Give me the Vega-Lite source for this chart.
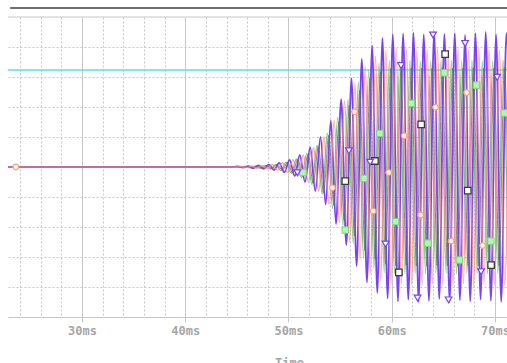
{
  "$schema": "https://vega.github.io/schema/vega-lite/v6.json",
  "width": 499,
  "height": 300,
  "autosize": {"type": "none"},
  "padding": {"left": 8, "top": 17, "right": 0, "bottom": 46},
  "background": "#ffffff",
  "config": {"view": {"stroke": null}},
  "datasets": {
    "purple": [
      {"t": 22.0, "v": 0}, {"t": 44.6, "v": 0},
      {"t": 45.1, "v": 0.02}, {"t": 45.6, "v": -0.02}, {"t": 46.1, "v": 0.03}, {"t": 46.6, "v": -0.04},
      {"t": 47.1, "v": 0.05}, {"t": 47.6, "v": -0.06}, {"t": 48.1, "v": 0.08}, {"t": 48.6, "v": -0.1},
      {"t": 49.1, "v": 0.14}, {"t": 49.6, "v": -0.18}, {"t": 50.1, "v": 0.24}, {"t": 50.6, "v": -0.3},
      {"t": 51.1, "v": 0.4}, {"t": 51.6, "v": -0.5}, {"t": 52.1, "v": 0.65}, {"t": 52.6, "v": -0.8},
      {"t": 53.1, "v": 1.0}, {"t": 53.6, "v": -1.25}, {"t": 54.1, "v": 1.55}, {"t": 54.6, "v": -1.9},
      {"t": 55.1, "v": 2.25}, {"t": 55.6, "v": -2.6}, {"t": 56.1, "v": 2.95}, {"t": 56.6, "v": -3.3},
      {"t": 57.1, "v": 3.6}, {"t": 57.6, "v": -3.85}, {"t": 58.1, "v": 4.05}, {"t": 58.6, "v": -4.2},
      {"t": 59.1, "v": 4.3}, {"t": 59.6, "v": -4.38}, {"t": 60.1, "v": 4.42}, {"t": 60.6, "v": -4.48},
      {"t": 61.1, "v": 4.45}, {"t": 61.6, "v": -4.42}, {"t": 62.1, "v": 4.48}, {"t": 62.6, "v": -4.5},
      {"t": 63.1, "v": 4.42}, {"t": 63.6, "v": -4.46}, {"t": 64.1, "v": 4.5}, {"t": 64.6, "v": -4.4},
      {"t": 65.1, "v": 4.44}, {"t": 65.6, "v": -4.5}, {"t": 66.1, "v": 4.46}, {"t": 66.6, "v": -4.44},
      {"t": 67.1, "v": 4.4}, {"t": 67.6, "v": -4.48}, {"t": 68.1, "v": 4.46}, {"t": 68.6, "v": -4.42},
      {"t": 69.1, "v": 4.5}, {"t": 69.6, "v": -4.46}, {"t": 70.1, "v": 4.42}, {"t": 70.6, "v": -4.5},
      {"t": 71.1, "v": 4.46}, {"t": 71.6, "v": -4.44}
    ],
    "red": [
      {"t": 22.0, "v": 0}, {"t": 44.9, "v": 0},
      {"t": 45.43, "v": 0.02}, {"t": 45.93, "v": -0.02}, {"t": 46.43, "v": 0.03}, {"t": 46.93, "v": -0.04},
      {"t": 47.43, "v": 0.05}, {"t": 47.93, "v": -0.06}, {"t": 48.43, "v": 0.08}, {"t": 48.93, "v": -0.1},
      {"t": 49.43, "v": 0.14}, {"t": 49.93, "v": -0.18}, {"t": 50.43, "v": 0.24}, {"t": 50.93, "v": -0.3},
      {"t": 51.43, "v": 0.4}, {"t": 51.93, "v": -0.5}, {"t": 52.43, "v": 0.64}, {"t": 52.93, "v": -0.8},
      {"t": 53.43, "v": 1.0}, {"t": 53.93, "v": -1.25}, {"t": 54.43, "v": 1.55}, {"t": 54.93, "v": -1.85},
      {"t": 55.43, "v": 2.2}, {"t": 55.93, "v": -2.5}, {"t": 56.43, "v": 2.8}, {"t": 56.93, "v": -3.1},
      {"t": 57.43, "v": 3.35}, {"t": 57.93, "v": -3.55}, {"t": 58.43, "v": 3.7}, {"t": 58.93, "v": -3.8},
      {"t": 59.43, "v": 3.88}, {"t": 59.93, "v": -3.92}, {"t": 60.43, "v": 3.95}, {"t": 60.93, "v": -3.9},
      {"t": 61.43, "v": 3.95}, {"t": 61.93, "v": -3.92}, {"t": 62.43, "v": 3.9}, {"t": 62.93, "v": -3.96},
      {"t": 63.43, "v": 3.92}, {"t": 63.93, "v": -3.9}, {"t": 64.43, "v": 3.96}, {"t": 64.93, "v": -3.92},
      {"t": 65.43, "v": 3.9}, {"t": 65.93, "v": -3.95}, {"t": 66.43, "v": 3.94}, {"t": 66.93, "v": -3.9},
      {"t": 67.43, "v": 3.92}, {"t": 67.93, "v": -3.96}, {"t": 68.43, "v": 3.95}, {"t": 68.93, "v": -3.9},
      {"t": 69.43, "v": 3.92}, {"t": 69.93, "v": -3.94}, {"t": 70.43, "v": 3.9}, {"t": 70.93, "v": -3.92},
      {"t": 71.43, "v": 3.95}
    ],
    "green": [
      {"t": 22.0, "v": 0}, {"t": 45.0, "v": 0},
      {"t": 45.27, "v": -0.02}, {"t": 45.77, "v": 0.02}, {"t": 46.27, "v": -0.03}, {"t": 46.77, "v": 0.03},
      {"t": 47.27, "v": -0.04}, {"t": 47.77, "v": 0.05}, {"t": 48.27, "v": -0.07}, {"t": 48.77, "v": 0.09},
      {"t": 49.27, "v": -0.12}, {"t": 49.77, "v": 0.16}, {"t": 50.27, "v": -0.21}, {"t": 50.77, "v": 0.27},
      {"t": 51.27, "v": -0.36}, {"t": 51.77, "v": 0.45}, {"t": 52.27, "v": -0.58}, {"t": 52.77, "v": 0.72},
      {"t": 53.27, "v": -0.9}, {"t": 53.77, "v": 1.12}, {"t": 54.27, "v": -1.38}, {"t": 54.77, "v": 1.66},
      {"t": 55.27, "v": -1.95}, {"t": 55.77, "v": 2.25}, {"t": 56.27, "v": -2.55}, {"t": 56.77, "v": 2.82},
      {"t": 57.27, "v": -3.05}, {"t": 57.77, "v": 3.25}, {"t": 58.27, "v": -3.38}, {"t": 58.77, "v": 3.48},
      {"t": 59.27, "v": -3.52}, {"t": 59.77, "v": 3.55}, {"t": 60.27, "v": -3.56}, {"t": 60.77, "v": 3.55},
      {"t": 61.27, "v": -3.54}, {"t": 61.77, "v": 3.56}, {"t": 62.27, "v": -3.55}, {"t": 62.77, "v": 3.53},
      {"t": 63.27, "v": -3.56}, {"t": 63.77, "v": 3.55}, {"t": 64.27, "v": -3.54}, {"t": 64.77, "v": 3.56},
      {"t": 65.27, "v": -3.55}, {"t": 65.77, "v": 3.54}, {"t": 66.27, "v": -3.56}, {"t": 66.77, "v": 3.55},
      {"t": 67.27, "v": -3.54}, {"t": 67.77, "v": 3.56}, {"t": 68.27, "v": -3.55}, {"t": 68.77, "v": 3.54},
      {"t": 69.27, "v": -3.56}, {"t": 69.77, "v": 3.55}, {"t": 70.27, "v": -3.54}, {"t": 70.77, "v": 3.56},
      {"t": 71.27, "v": -3.55}
    ],
    "gray": [
      {"t": 22.0, "v": 0}, {"t": 45.1, "v": 0},
      {"t": 45.4, "v": -0.02}, {"t": 45.9, "v": 0.02}, {"t": 46.4, "v": -0.02}, {"t": 46.9, "v": 0.03},
      {"t": 47.4, "v": -0.04}, {"t": 47.9, "v": 0.05}, {"t": 48.4, "v": -0.06}, {"t": 48.9, "v": 0.08},
      {"t": 49.4, "v": -0.1}, {"t": 49.9, "v": 0.14}, {"t": 50.4, "v": -0.19}, {"t": 50.9, "v": 0.25},
      {"t": 51.4, "v": -0.33}, {"t": 51.9, "v": 0.42}, {"t": 52.4, "v": -0.54}, {"t": 52.9, "v": 0.68},
      {"t": 53.4, "v": -0.85}, {"t": 53.9, "v": 1.05}, {"t": 54.4, "v": -1.28}, {"t": 54.9, "v": 1.52},
      {"t": 55.4, "v": -1.78}, {"t": 55.9, "v": 2.05}, {"t": 56.4, "v": -2.3}, {"t": 56.9, "v": 2.55},
      {"t": 57.4, "v": -2.78}, {"t": 57.9, "v": 2.95}, {"t": 58.4, "v": -3.08}, {"t": 58.9, "v": 3.18},
      {"t": 59.4, "v": -3.24}, {"t": 59.9, "v": 3.28}, {"t": 60.4, "v": -3.3}, {"t": 60.9, "v": 3.3},
      {"t": 61.4, "v": -3.28}, {"t": 61.9, "v": 3.31}, {"t": 62.4, "v": -3.3}, {"t": 62.9, "v": 3.29},
      {"t": 63.4, "v": -3.31}, {"t": 63.9, "v": 3.3}, {"t": 64.4, "v": -3.28}, {"t": 64.9, "v": 3.31},
      {"t": 65.4, "v": -3.3}, {"t": 65.9, "v": 3.29}, {"t": 66.4, "v": -3.31}, {"t": 66.9, "v": 3.3},
      {"t": 67.4, "v": -3.28}, {"t": 67.9, "v": 3.31}, {"t": 68.4, "v": -3.3}, {"t": 68.9, "v": 3.29},
      {"t": 69.4, "v": -3.31}, {"t": 69.9, "v": 3.3}, {"t": 70.4, "v": -3.28}, {"t": 70.9, "v": 3.31},
      {"t": 71.4, "v": -3.3}
    ],
    "triangles": [
      {"t": 50.86, "v": -0.19}, {"t": 55.85, "v": 0.54}, {"t": 57.9, "v": 0.16}, {"t": 59.4, "v": -2.57},
      {"t": 60.9, "v": 3.38}, {"t": 62.5, "v": -4.37}, {"t": 64.0, "v": 4.4}, {"t": 65.5, "v": -4.43},
      {"t": 67.1, "v": 4.12}, {"t": 68.65, "v": -3.49}, {"t": 70.2, "v": 2.99}
    ],
    "blacksq": [
      {"t": 55.5, "v": -0.47}, {"t": 58.37, "v": 0.2}, {"t": 60.69, "v": -3.51}, {"t": 62.85, "v": 1.42},
      {"t": 65.17, "v": 3.76}, {"t": 67.36, "v": -0.79}, {"t": 69.62, "v": -3.27}
    ],
    "greensq": [
      {"t": 51.4, "v": -0.18}, {"t": 55.5, "v": -2.1}, {"t": 57.33, "v": -0.38}, {"t": 58.85, "v": 1.12},
      {"t": 60.37, "v": -1.82}, {"t": 61.9, "v": 2.12}, {"t": 63.5, "v": -2.54}, {"t": 65.1, "v": 3.14},
      {"t": 66.55, "v": -3.1}, {"t": 68.2, "v": 2.73}, {"t": 69.6, "v": -2.47}, {"t": 70.9, "v": 1.8}
    ],
    "circles": [
      {"t": 23.6, "v": 0}, {"t": 54.25, "v": -0.69}, {"t": 56.4, "v": 1.84}, {"t": 58.2, "v": -1.47},
      {"t": 59.7, "v": -0.18}, {"t": 61.2, "v": 1.04}, {"t": 62.8, "v": -1.6}, {"t": 64.24, "v": 1.99},
      {"t": 65.75, "v": -2.47}, {"t": 67.26, "v": 2.48}, {"t": 68.8, "v": -2.62}
    ],
    "cyan": [{"t": 22.84, "t2": 71.16, "v": 3.23}],
    "border": [{"t": 22.84, "t2": 71.16, "v": 5}],
    "frame": [{"t": 23.05, "t2": 71.16, "v": 5.3}]
  },
  "encoding": {
    "x": {
      "field": "t", "type": "quantitative",
      "scale": {"domain": [22.84, 71.16], "nice": false, "zero": false},
      "axis": {
        "values": [24, 26, 28, 30, 32, 34, 36, 38, 40, 42, 44, 46, 48, 50, 52, 54, 56, 58, 60, 62, 64, 66, 68, 70],
        "labelExpr": "datum.value % 10 === 0 ? datum.value + 'ms' : ''",
        "labelOverlap": false, "labelFlush": false, "labelBound": false,
        "grid": true, "gridColor": "#c6c6c6", "gridOpacity": 1, "gridWidth": 1,
        "gridDash": {"condition": {"test": "datum.value % 10 === 0", "value": []}, "value": [2, 2]},
        "ticks": true, "tickColor": "#c6c6c6", "tickSize": 5,
        "tickOpacity": {"condition": {"test": "datum.value % 10 === 0", "value": 1}, "value": 0},
        "domain": true, "domainColor": "#c6c6c6", "domainWidth": 1,
        "labelFont": "DejaVu Sans Mono", "labelFontWeight": "bold", "labelFontSize": 12,
        "labelColor": "#a6a6a6", "labelPadding": 3,
        "title": "Time", "titleFont": "DejaVu Sans Mono", "titleFontWeight": "bold", "titleFontSize": 12,
        "titleColor": "#a6a6a6", "titleX": 281, "titleY": 40, "titleBaseline": "top", "titleAlign": "center"
      }
    },
    "y": {
      "field": "v", "type": "quantitative",
      "scale": {"domain": [-5, 5], "nice": false, "zero": false},
      "axis": {
        "values": [-4, -3, -2, -1, 0, 1, 2, 3, 4],
        "labels": false, "ticks": false, "domain": false, "title": null,
        "grid": true, "gridColor": "#c6c6c6", "gridOpacity": 1, "gridDash": [2, 2]
      }
    }
  },
  "layer": [
    {"data": {"name": "border"}, "mark": {"type": "rule", "color": "#c6c6c6", "strokeWidth": 1}, "encoding": {"x2": {"field": "t2"}}},
    {"data": {"name": "frame"}, "mark": {"type": "rule", "color": "#6e6e6e", "strokeWidth": 2}, "encoding": {"x2": {"field": "t2"}}},
    {"data": {"name": "cyan"}, "mark": {"type": "rule", "color": "#55e3e3", "strokeWidth": 1.5}, "encoding": {"x2": {"field": "t2"}}},
    {"data": {"name": "green"}, "mark": {"type": "line", "interpolate": "monotone", "clip": true, "color": "#6cc96c", "strokeWidth": 1.2}},
    {"data": {"name": "purple"}, "mark": {"type": "line", "interpolate": "monotone", "clip": true, "color": "#7b42f5", "strokeWidth": 1.8}},
    {"data": {"name": "gray"}, "mark": {"type": "line", "interpolate": "monotone", "clip": true, "color": "#6a6a6a", "strokeWidth": 1, "opacity": 0.8}},
    {"data": {"name": "red"}, "mark": {"type": "line", "interpolate": "monotone", "clip": true, "color": "#ff8585", "strokeWidth": 1.5, "opacity": 0.75}},
    {"data": {"name": "greensq"}, "mark": {"type": "point", "shape": "square", "filled": true, "fill": "#b4f5b4", "stroke": "#7ad67a", "strokeWidth": 1, "size": 42, "opacity": 1}},
    {"data": {"name": "circles"}, "mark": {"type": "point", "shape": "circle", "filled": true, "fill": "#fff3ea", "stroke": "#f7a07c", "strokeWidth": 1.2, "size": 32, "opacity": 1}},
    {"data": {"name": "blacksq"}, "mark": {"type": "point", "shape": "square", "filled": true, "fill": "#ffffff", "stroke": "#3a3a3a", "strokeWidth": 1.3, "size": 42, "opacity": 1}},
    {"data": {"name": "triangles"}, "mark": {"type": "point", "shape": "triangle-down", "filled": true, "fill": "#ffffff", "stroke": "#7b42f5", "strokeWidth": 1.2, "size": 45, "opacity": 1}}
  ]
}
